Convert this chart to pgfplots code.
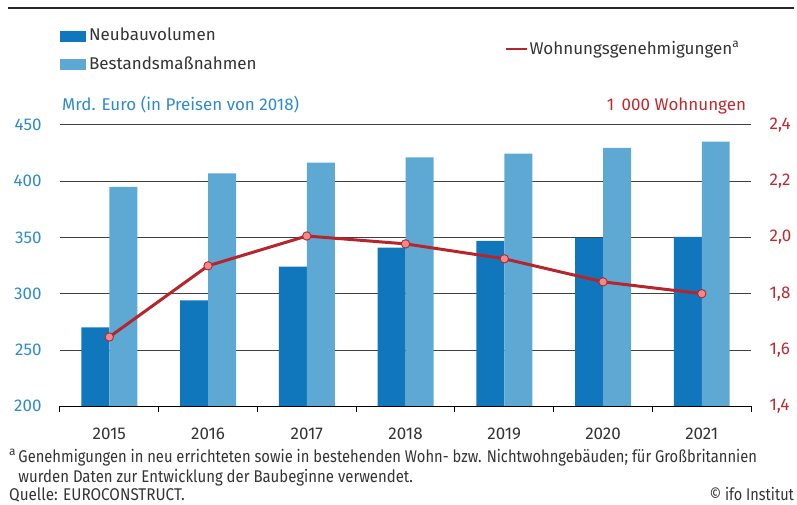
\documentclass[border=0pt]{standalone}
\usepackage{pgfplots}
\pgfplotsset{compat=1.18}
\usepackage{fontspec}
\setmainfont{Fira Sans}
\definecolor{neubau}{HTML}{1177BD}
\definecolor{bestand}{HTML}{5DA9D4}
\definecolor{lred}{HTML}{B5252B}
\definecolor{mfill}{HTML}{F08A8A}
\definecolor{lblue}{HTML}{2E8BC9}
\definecolor{rred}{HTML}{C0282D}
\definecolor{txt}{HTML}{333333}
\begin{document}
\begin{tikzpicture}[x=1pt,y=1pt]
\path (0pt,0pt) rectangle (797pt,505pt);
\fontsize{17}{20}\selectfont
\draw[line width=2pt, black!85] (8pt,496.5pt) -- (795pt,496.5pt);
% legend
\fill[neubau] (60pt,463pt) rectangle (86pt,474pt);
\node[overlay, anchor=base west, inner sep=0, txt] at (89pt,464pt) {Neubauvolumen};
\fill[bestand] (60pt,435pt) rectangle (86pt,446pt);
\node[overlay, anchor=base west, inner sep=0, txt] at (89pt,435pt) {Bestandsmaßnahmen};
\draw[lred, line width=2.8pt] (507pt,456pt) -- (528pt,456pt);
\node[overlay, anchor=base west, inner sep=0, txt] at (530pt,450.7pt) {Wohnungsgenehmigungen\textsuperscript{a}};
\node[overlay, anchor=base west, inner sep=0, lblue] at (62pt,394pt) {Mrd. Euro (in Preisen von 2018)};
\node[overlay, anchor=base east, inner sep=0, rred] at (747pt,394pt) {1\hspace{0.45em}000 Wohnungen};
% footnotes
\node[overlay, anchor=base west, inner sep=0, txt] at (9pt,42.3pt) {\textsuperscript{a}};
\node[overlay, anchor=base west, inner sep=0, txt] at (18.3pt,42.3pt) {\scalebox{0.868}[1]{Genehmigungen in neu errichteten sowie in bestehenden Wohn- bzw. Nichtwohngebäuden; für Großbritannien}};
\node[overlay, anchor=base west, inner sep=0, txt] at (18.3pt,21.7pt) {\scalebox{0.88}[1]{wurden Daten zur Entwicklung der Baubeginne verwendet.}};
\node[overlay, anchor=base west, inner sep=0, txt] at (9pt,4pt) {\scalebox{0.90}[1]{Quelle: EUROCONSTRUCT.}};
\node[overlay, anchor=base east, inner sep=0, txt] at (795pt,4pt) {\scalebox{0.852}[1]{© ifo Institut}};

\begin{axis}[
  at={(60pt,98.3pt)}, anchor=south west, scale only axis,
  width=692pt, height=281.7pt,
  xmin=-0.5, xmax=6.5, ymin=200, ymax=450,
  axis line style={draw=none},
  ytick={200,250,300,350,400,450},
  yticklabels={200,250,300,350,400,450},
  ytick pos=left, ytick style={draw=none},
  ymajorgrids, grid style={black!75, line width=0.8pt},
  xtick={0,1,2,3,4,5,6},
  xticklabels={2015,2016,2017,2018,2019,2020,2021},
  xtick pos=bottom,
  major x tick style={draw=none},
  minor xtick={-0.5,0.5,1.5,2.5,3.5,4.5,5.5,6.5},
  minor x tick style={black, line width=1pt},
  minor tick length=6pt, major tick length=6pt, tick align=outside,
  xticklabel style={txt, font=\fontsize{17}{20}\selectfont, yshift=-9.6pt},
  yticklabel style={lblue, font=\fontsize{17}{20}\selectfont, xshift=-6.6pt},
  ybar=0pt, bar width=28pt,
  clip mode=individual,
]
\addplot[fill=neubau, draw=none] coordinates {(0,270) (1,294) (2,324) (3,341) (4,347) (5,349.5) (6,350.5)};
\addplot[fill=bestand, draw=none] coordinates {(0,395) (1,407) (2,416.5) (3,421) (4,424.5) (5,429.5) (6,435)};
\draw[black, line width=1.4pt] (rel axis cs:0,0) -- (rel axis cs:1,0);
\end{axis}

\begin{axis}[
  at={(60pt,98.3pt)}, anchor=south west, scale only axis,
  width=692pt, height=281.7pt,
  xmin=-0.5, xmax=6.5, ymin=1.4, ymax=2.4,
  axis line style={draw=none},
  xtick=\empty,
  ytick={1.4,1.6,1.8,2.0,2.2,2.4},
  yticklabels={{1,4},{1,6},{1,8},{2,0},{2,2},{2,4}},
  ytick pos=right, yticklabel pos=right, ytick style={draw=none},
  major tick length=6pt, tick align=outside,
  yticklabel style={rred, font=\fontsize{17}{20}\selectfont, xshift=6.6pt},
  clip=false,
]
\addplot[lred, line width=3pt, mark=*, mark size=4.2pt,
  mark options={fill=mfill, draw=lred, line width=0.9pt}]
  coordinates {(0,1.646) (1,1.899) (2,2.005) (3,1.977) (4,1.924) (5,1.842) (6,1.80)};
\end{axis}
\end{tikzpicture}
\end{document}
